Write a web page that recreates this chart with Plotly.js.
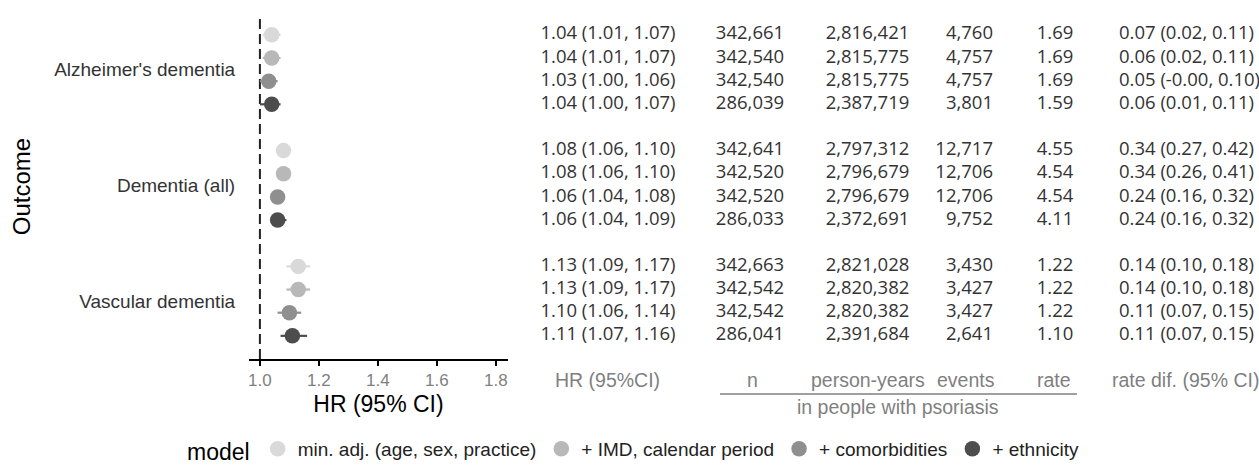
<!DOCTYPE html>
<html>
<head>
<meta charset="utf-8">
<script src="https://cdn.plot.ly/plotly-3.0.1.min.js"></script>
<style>html,body{margin:0;padding:0;background:#fff;}#chart{width:1259px;height:465px;}</style>
</head>
<body>
<div id="chart"></div>
<script>
// ---------- data ----------
const outcomes = ["Alzheimer's dementia", "Dementia (all)", "Vascular dementia"];
const models = ["min. adj. (age, sex, practice)", "+ IMD, calendar period", "+ comorbidities", "+ ethnicity"];
const modelColors = ["#d9d9d9", "#b8b8b8", "#8f8f8f", "#4d4d4d"];

// rows ordered outcome by outcome, 4 models each
const hr   = [1.04, 1.04, 1.03, 1.04,  1.08, 1.08, 1.06, 1.06,  1.13, 1.13, 1.10, 1.11];
const hrLo = [1.01, 1.01, 1.00, 1.00,  1.06, 1.06, 1.04, 1.04,  1.09, 1.09, 1.06, 1.07];
const hrHi = [1.07, 1.07, 1.06, 1.07,  1.10, 1.10, 1.08, 1.09,  1.17, 1.17, 1.14, 1.16];
const nPeople = [342661, 342540, 342540, 286039,  342641, 342520, 342520, 286033,  342663, 342542, 342542, 286041];
const personYears = [2816421, 2815775, 2815775, 2387719,  2797312, 2796679, 2796679, 2372691,  2821028, 2820382, 2820382, 2391684];
const events = [4760, 4757, 4757, 3801,  12717, 12706, 12706, 9752,  3430, 3427, 3427, 2641];
const rate = [1.69, 1.69, 1.69, 1.59,  4.55, 4.54, 4.54, 4.11,  1.22, 1.22, 1.22, 1.10];
const rateDif = ["0.07 (0.02, 0.11)", "0.06 (0.02, 0.11)", "0.05 (-0.00, 0.10)", "0.06 (0.01, 0.11)",
                 "0.34 (0.27, 0.42)", "0.34 (0.26, 0.41)", "0.24 (0.16, 0.32)", "0.24 (0.16, 0.32)",
                 "0.14 (0.10, 0.18)", "0.14 (0.10, 0.18)", "0.11 (0.07, 0.15)", "0.11 (0.07, 0.15)"];
const xTicks = [1.0, 1.2, 1.4, 1.6, 1.8];
const tableHeaders = ["HR (95%CI)", "n", "person-years", "events", "rate", "rate dif. (95% CI)"];
const groupLabel = "in people with psoriasis";

// ---------- layout helpers (positions / styles) ----------
const W = 1259, H = 465;
const px = v => v / W;                 // pixel x -> paper
const py = v => (H - v) / H;           // pixel y -> paper
const plotTop = 14, plotBottom = 359, plotLeft = 249, plotRight = 508;
const nModels = models.length;
const rowY = i => 14 - (Math.floor(i / nModels) * (nModels + 1) + (i % nModels));
const yRows = hr.map((_, i) => rowY(i));
const groupCenters = outcomes.map((_, g) => 14 - g * (nModels + 1) - (nModels - 1) / 2);

const tableDomain = [0.41, 1];
const fmtInt = v => v.toLocaleString('en-US');
const f2 = v => v.toFixed(2);
const columns = [
  {text: hr.map((v, i) => `${f2(v)} (${f2(hrLo[i])}, ${f2(hrHi[i])})`), x: 608, pos: 'middle center'},
  {text: nPeople.map(fmtInt), x: 750, pos: 'middle center'},
  {text: personYears.map(fmtInt), x: 867.5, pos: 'middle center'},
  {text: events.map(fmtInt), x: 993, pos: 'middle left'},
  {text: rate.map(f2), x: 1055, pos: 'middle center'},
  {text: rateDif, x: 1119, pos: 'middle right'}
];
const headerPos = [
  {x: 607.5, anchor: 'center'}, {x: 752.5, anchor: 'center'}, {x: 867.5, anchor: 'center'},
  {x: 997, anchor: 'right'}, {x: 1054, anchor: 'center'}, {x: 1185, anchor: 'center'}
];
const headerY = 380;
const headerFont = {family: 'Liberation Sans, Arial', size: 19.5, color: '#7f7f7f'};

// ---------- traces ----------
const traces = [];
models.forEach((m, k) => {
  const idx = hr.map((_, i) => i).filter(i => i % nModels === k);
  traces.push({
    type: 'scatter', mode: 'markers', name: m,
    x: idx.map(i => hr[i]), y: idx.map(i => yRows[i]),
    xaxis: 'x', yaxis: 'y', cliponaxis: false,
    marker: {size: 15.5, color: modelColors[k]},
    error_x: {type: 'data', symmetric: false,
      array: idx.map(i => hrHi[i] - hr[i]), arrayminus: idx.map(i => hr[i] - hrLo[i]),
      width: 0, thickness: 2.2, color: modelColors[k]},
    hoverinfo: 'x+name'
  });
});
columns.forEach(c => {
  traces.push({
    type: 'scatter', mode: 'text', showlegend: false, hoverinfo: 'skip',
    x: c.text.map(() => c.x), y: yRows, text: c.text, textposition: c.pos,
    xaxis: 'x2', yaxis: 'y', cliponaxis: false,
    textfont: {family: 'Open Sans', size: 18.5, color: '#333333'}
  });
});

const annotations = tableHeaders.map((t, j) => ({
  xref: 'x2', yref: 'paper', x: headerPos[j].x, y: py(headerY), text: t, showarrow: false,
  xanchor: headerPos[j].anchor, yanchor: 'middle', font: headerFont
}));
annotations.push({xref: 'x2', yref: 'paper', x: 898, y: py(407), text: groupLabel, showarrow: false,
  xanchor: 'center', yanchor: 'middle', font: headerFont});

const layout = {
  width: W, height: H, margin: {l: 0, r: 0, t: 0, b: 0, autoexpand: false},
  paper_bgcolor: '#ffffff', plot_bgcolor: '#ffffff',
  font: {family: 'Liberation Sans, Arial, sans-serif', color: '#000'},
  showlegend: true,
  xaxis: {domain: [px(plotLeft), px(plotRight)], range: [0.963, 1.841], anchor: 'y',
    tickvals: xTicks, ticktext: xTicks.map(v => v.toFixed(1)),
    showline: true, linecolor: '#000', linewidth: 2, ticks: 'outside', ticklen: 5, tickwidth: 1.5, tickcolor: '#000',
    showgrid: false, zeroline: false, fixedrange: true, automargin: false,
    tickfont: {size: 17, color: '#7f7f7f'},
    title: {text: 'HR (95% CI)', font: {size: 23, color: '#000'}, standoff: 6}},
  xaxis2: {domain: tableDomain, range: [tableDomain[0] * W, tableDomain[1] * W], anchor: 'y', visible: false, fixedrange: true},
  yaxis: {domain: [py(plotBottom), py(plotTop)], range: [0, 14.9],
    tickvals: groupCenters, ticktext: outcomes, showgrid: false, zeroline: false, showline: false,
    ticks: 'outside', ticklen: 9, tickcolor: 'rgba(0,0,0,0)', fixedrange: true, automargin: false,
    tickfont: {size: 19, color: '#333333'},
    title: {text: 'Outcome', font: {size: 24, color: '#000'}, standoff: 16}},
  shapes: [
    {type: 'line', xref: 'x', yref: 'paper', x0: 1, x1: 1, y0: py(plotBottom), y1: py(plotTop), layer: 'below',
     line: {color: '#222', width: 2, dash: '10px,5px'}},
    {type: 'line', xref: 'x2', yref: 'paper', x0: 720, x1: 1077, y0: py(394), y1: py(394),
     line: {color: '#7f7f7f', width: 1.5}}
  ],
  annotations: annotations,
  legend: {orientation: 'h', x: 0.5 + 5 / W, xanchor: 'center', y: py(450), yanchor: 'middle',
    font: {size: 19, color: '#222'}, title: {text: 'model', side: 'left', font: {size: 23, color: '#000'}},
    bgcolor: 'rgba(0,0,0,0)'}
};

Plotly.newPlot('chart', traces, layout, {displayModeBar: false, staticPlot: true});
</script>
</body>
</html>
